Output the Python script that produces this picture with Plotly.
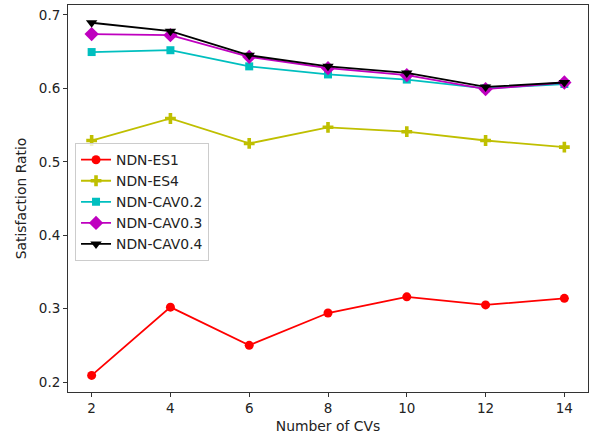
import plotly.graph_objects as go

x_cvs = [2, 4, 6, 8, 10, 12, 14]
es1 = [0.209, 0.302, 0.250, 0.294, 0.316, 0.305, 0.314]
es4 = [0.529, 0.559, 0.525, 0.547, 0.541, 0.529, 0.520]
cav02 = [0.6495, 0.652, 0.630, 0.619, 0.612, 0.600, 0.606]
cav03 = [0.674, 0.6725, 0.643, 0.6275, 0.618, 0.599, 0.608]
cav04 = [0.6894, 0.678, 0.645, 0.630, 0.621, 0.602, 0.608]

series = [
    ("NDN-ES1", es1, "#ff0000", "circle", 9),
    ("NDN-ES4", es4, "#bfbf00", "cross", 9),
    ("NDN-CAV0.2", cav02, "#00bfbf", "square", 8),
    ("NDN-CAV0.3", cav03, "#bf00bf", "diamond", 11),
    ("NDN-CAV0.4", cav04, "#000000", "triangle-down", 10),
]

fig = go.Figure()
for name, vals, color, sym, sz in series:
    fig.add_trace(go.Scatter(
        x=x_cvs, y=vals, name=name, mode="lines+markers",
        line=dict(color=color, width=1.8),
        marker=dict(color=color, symbol=sym, size=sz, line=dict(width=0)),
    ))

fig.update_layout(
    width=590, height=439,
    margin=dict(l=68, r=2, t=5, b=47, autoexpand=False),
    paper_bgcolor="white", plot_bgcolor="white",
    font=dict(family="DejaVu Sans", size=13.5, color="#222"),
    showlegend=True,
    legend=dict(
        x=0.0135, y=0.643, xanchor="left", yanchor="top",
        bordercolor="#cccccc", borderwidth=1, bgcolor="rgba(255,255,255,0.8)",
        font=dict(size=13.9, color="#222"),
        tracegroupgap=0,
    ),
)
fig.update_xaxes(
    range=[1.4, 14.6], tickvals=x_cvs, ticktext=[str(v) for v in x_cvs],
    showgrid=False, zeroline=False, showline=True, linecolor="#333", linewidth=1,
    mirror=True, ticks="outside", ticklen=4, tickcolor="#333",
    title=dict(text="Number of CVs", font=dict(size=13.9), standoff=6),
)
fig.update_yaxes(
    range=[0.1864, 0.7136], tickvals=[0.2, 0.3, 0.4, 0.5, 0.6, 0.7],
    ticktext=["0.2", "0.3", "0.4", "0.5", "0.6", "0.7"],
    showgrid=False, zeroline=False, showline=True, linecolor="#333", linewidth=1,
    mirror=True, ticks="outside", ticklen=4, tickcolor="#333",
    title=dict(text="Satisfaction Ratio", font=dict(size=13.9), standoff=8),
)

fig.write_html(
    "out.html",
    config={"displayModeBar": False},
    post_script="document.body.style.margin='0';document.body.style.overflow='hidden';",
)
